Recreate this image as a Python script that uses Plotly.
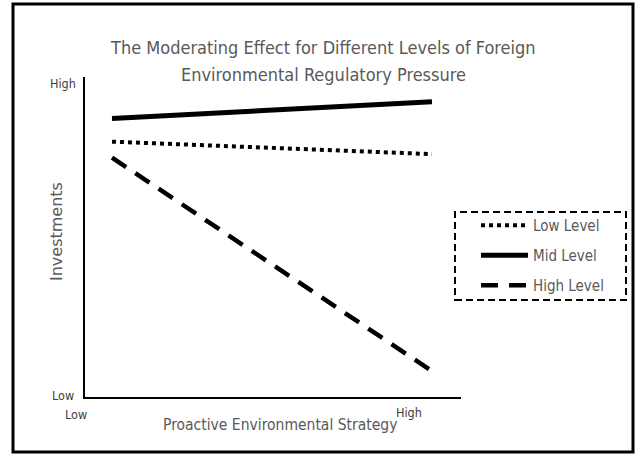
import plotly.graph_objects as go

W, H = 640, 463

# Data (arbitrary 0-10 scale of the "Investments" axis)
x_levels = [0, 1]                 # Low, High proactive environmental strategy
series_names = ["Low Level", "Mid Level", "High Level"]
low_level = [7.98, 7.59]
mid_level = [8.70, 9.23]
high_level = [7.48, 0.81]
x_tick_labels = ["Low", "High"]
y_tick_labels = ["Low", "High"]
title_lines = ["The Moderating Effect for Different Levels of Foreign",
               "Environmental Regulatory Pressure"]

FONT = "DejaVu Sans Condensed, Liberation Sans Narrow, sans-serif"
GRAY = "#595959"
DARK = "#404040"

def px(x):
    return x / W

def py(y):
    return 1 - y / H

fig = go.Figure()
styles = [
    dict(color="black", width=4, dash="4px,4px"),
    dict(color="black", width=5, dash="solid"),
    dict(color="black", width=4.5, dash="17px,11px"),
]
for i, (name, vals) in enumerate(zip(series_names, [low_level, mid_level, high_level])):
    fig.add_trace(go.Scatter(
        x=x_levels, y=vals, mode="lines", name=name,
        line=styles[i], legendgroup=name, hoverinfo="skip",
    ))

# plot area pixels
X0, X1 = 85, 461
Y0, Y1 = 77, 397

fig.update_layout(
    width=W, height=H,
    margin=dict(l=0, r=0, t=0, b=0),
    paper_bgcolor="white", plot_bgcolor="white",
    showlegend=True,
    legend=dict(
        x=px(476), y=py(209), xanchor="left", yanchor="top",
        bgcolor="rgba(0,0,0,0)", borderwidth=0,
        font=dict(family=FONT, size=15, color=GRAY),
        tracegroupgap=7.5, itemwidth=47,
    ),
    xaxis=dict(
        domain=[px(X0), px(X1)],
        range=[-27 / 320, 1 + 29 / 320],
        showgrid=False, zeroline=False, showticklabels=False, ticks="",
        showline=True, linecolor="black", linewidth=2,
    ),
    yaxis=dict(
        domain=[py(Y1), py(Y0)],
        range=[0, 10],
        showgrid=False, zeroline=False, showticklabels=False, ticks="",
        showline=True, linecolor="black", linewidth=2,
    ),
)

shapes = [
    dict(type="rect", xref="paper", yref="paper",
         x0=px(13), x1=px(633), y0=py(452), y1=py(4),
         line=dict(color="black", width=3), fillcolor="rgba(0,0,0,0)"),
    dict(type="rect", xref="paper", yref="paper",
         x0=px(455), x1=px(626), y0=py(300), y1=py(212),
         line=dict(color="black", width=2, dash="7px,4px"), fillcolor="rgba(0,0,0,0)"),
]
fig.update_layout(shapes=shapes)

ann = [
    dict(text=title_lines[0], x=px(323), y=py(47), xanchor="center", yanchor="middle",
         font=dict(family=FONT, size=18, color=GRAY)),
    dict(text=title_lines[1], x=px(323), y=py(74), xanchor="center", yanchor="middle",
         font=dict(family=FONT, size=18, color=GRAY)),
    dict(text="Proactive Environmental Strategy", x=px(280), y=py(425),
         xanchor="center", yanchor="middle",
         font=dict(family=FONT, size=15.5, color=GRAY)),
    dict(text="Investments", x=px(57), y=py(232), textangle=-90,
         xanchor="center", yanchor="middle",
         font=dict(family="DejaVu Sans, sans-serif", size=16, color=GRAY)),
    dict(text=y_tick_labels[1], x=px(78), y=py(83), xanchor="right", yanchor="middle",
         font=dict(family=FONT, size=12.5, color=DARK)),
    dict(text=y_tick_labels[0], x=px(76), y=py(395), xanchor="right", yanchor="middle",
         font=dict(family=FONT, size=12.5, color=DARK)),
    dict(text=x_tick_labels[0], x=px(76), y=py(414), xanchor="center", yanchor="middle",
         font=dict(family=FONT, size=12.5, color=DARK)),
    dict(text=x_tick_labels[1], x=px(409), y=py(412), xanchor="center", yanchor="middle",
         font=dict(family=FONT, size=12.5, color=DARK)),
]
for a in ann:
    a.update(xref="paper", yref="paper", showarrow=False)
fig.update_layout(annotations=ann)

fig.write_html("out.html", config={"displayModeBar": False},
               post_script="document.body.style.margin='0';")
